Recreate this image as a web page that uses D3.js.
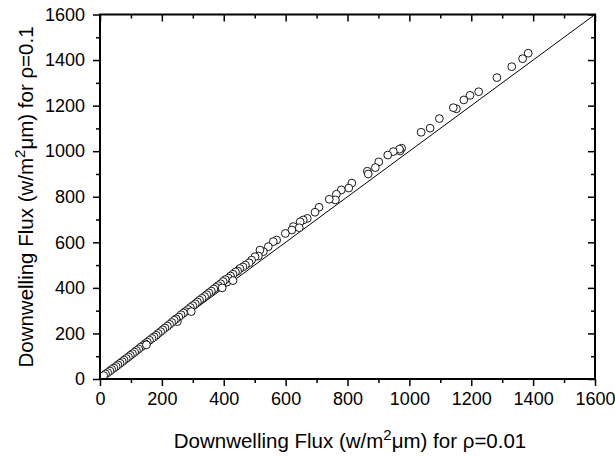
<!DOCTYPE html>
<html>
<head>
<meta charset="utf-8">
<script src="https://cdn.jsdelivr.net/npm/d3@7"></script>
<style>
  body { margin: 0; background: #fff; }
  svg { display: block; font-family: "Liberation Sans", Arial, sans-serif; }
</style>
</head>
<body>
<div id="chart"></div>
<script>
// flux for rho=0.01 (x) and rho=0.1 (y)
var fluxLow = [1384,1366,1331,1283,1224,1196,1176,1152,1142,1097,1067,1038,975,970,968,948,930,901,890,864,867,814,804,780,764,761,741,708,695,670,657,647,625,644,620,599,571,560,544,528,517,512,501,490,
  482,470,462,452,445,438,430,422,415,410,405,398,390,382,375,368,360,352,345,338,330,322,315,308,300,292,285,276,270,262,255,250,246,240,232,225,218,210,203,196,188,182,175,168,160,153,146,140,132,125,118,112,105,98,92,85,78,72,65,58,52,45,38,32,25,18,12,
  150,295,430,395];
var fluxHigh = [1430,1406,1371,1323,1261,1245,1225,1186,1191,1143,1101,1083,1013,1001,1009,998,983,953,928,912,900,860,838,830,811,786,789,754,732,705,698,690,669,664,654,639,610,603,581,559,566,540,537,522,
  510,500,492,485,474,470,460,452,443,425,436,428,418,410,402,395,386,378,370,362,354,346,338,330,322,314,305,296,290,282,272,252,264,258,248,240,232,224,216,208,200,192,185,178,170,162,155,147,140,132,125,118,111,104,97,90,83,76,69,62,55,48,42,35,28,22,15,
  150,296,432,400];
var axisMax = 1600;
var majorTicks = [0,200,400,600,800,1000,1200,1400,1600];
var minorTicks = d3.range(100, 1600, 200);

var W = 615, H = 457;
var margin = {left: 100, right: 20, top: 14.5, bottom: 78};
var iw = W - margin.left - margin.right, ih = H - margin.top - margin.bottom;

var svg = d3.select("#chart").append("svg").attr("width", W).attr("height", H);
var g = svg.append("g").attr("transform", "translate(" + margin.left + "," + margin.top + ")");

var x = d3.scaleLinear().domain([0, axisMax]).range([0, iw]);
var y = d3.scaleLinear().domain([0, axisMax]).range([ih, 0]);

// 1:1 line
g.append("line")
  .attr("x1", x(0)).attr("y1", y(0))
  .attr("x2", x(axisMax)).attr("y2", y(axisMax))
  .attr("stroke", "#000").attr("stroke-width", 1);

// points
g.selectAll(".pt")
  .data(fluxLow.map(function(d, i) { return [d, fluxHigh[i]]; }))
  .enter().append("circle")
  .attr("class", "pt")
  .attr("cx", function(d) { return x(d[0]); })
  .attr("cy", function(d) { return y(d[1]); })
  .attr("r", 3.9)
  .attr("fill", "#fff")
  .attr("stroke", "#000")
  .attr("stroke-width", 0.9);

function styleAxis(sel, labels) {
  sel.select(".domain").remove();
  sel.selectAll("line").attr("stroke", "#000").attr("stroke-width", 1.5);
  sel.selectAll("text").attr("fill", "#000").style("font-size", "18px");
  if (!labels) sel.selectAll("text").remove();
}

// major + minor ticks on all four sides
var xb = g.append("g").attr("transform", "translate(0," + ih + ")")
  .call(d3.axisBottom(x).tickValues(majorTicks).tickSize(7).tickPadding(6).tickFormat(d3.format("d")));
styleAxis(xb, true);
styleAxis(g.append("g").attr("transform", "translate(0," + ih + ")")
  .call(d3.axisBottom(x).tickValues(minorTicks).tickSize(4)), false);

var yl = g.append("g")
  .call(d3.axisLeft(y).tickValues(majorTicks).tickSize(7).tickPadding(8).tickFormat(d3.format("d")));
styleAxis(yl, true);
styleAxis(g.append("g").call(d3.axisLeft(y).tickValues(minorTicks).tickSize(4)), false);

styleAxis(g.append("g").call(d3.axisTop(x).tickValues(majorTicks).tickSize(-7)), false);
styleAxis(g.append("g").call(d3.axisTop(x).tickValues(minorTicks).tickSize(-4)), false);
styleAxis(g.append("g").attr("transform", "translate(" + iw + ",0)")
  .call(d3.axisRight(y).tickValues(majorTicks).tickSize(-7)), false);
styleAxis(g.append("g").attr("transform", "translate(" + iw + ",0)")
  .call(d3.axisRight(y).tickValues(minorTicks).tickSize(-4)), false);

// frame
g.append("rect").attr("width", iw).attr("height", ih)
  .attr("fill", "none").attr("stroke", "#000").attr("stroke-width", 2);

// axis titles
var xt = svg.append("text")
  .attr("x", 350).attr("y", 448)
  .attr("text-anchor", "middle").style("font-size", "20.5px");
xt.append("tspan").text("Downwelling Flux (w/m");
xt.append("tspan").attr("dy", -8).style("font-size", "15px").text("2");
xt.append("tspan").attr("dy", 8).text("\u03bcm) for \u03c1=0.01");

var yt = svg.append("text")
  .attr("transform", "translate(33,197) rotate(-90)")
  .attr("text-anchor", "middle").style("font-size", "20.5px");
yt.append("tspan").text("Downwelling Flux (w/m");
yt.append("tspan").attr("dy", -8).style("font-size", "15px").text("2");
yt.append("tspan").attr("dy", 8).text("\u03bcm) for \u03c1=0.1");
</script>
</body>
</html>
